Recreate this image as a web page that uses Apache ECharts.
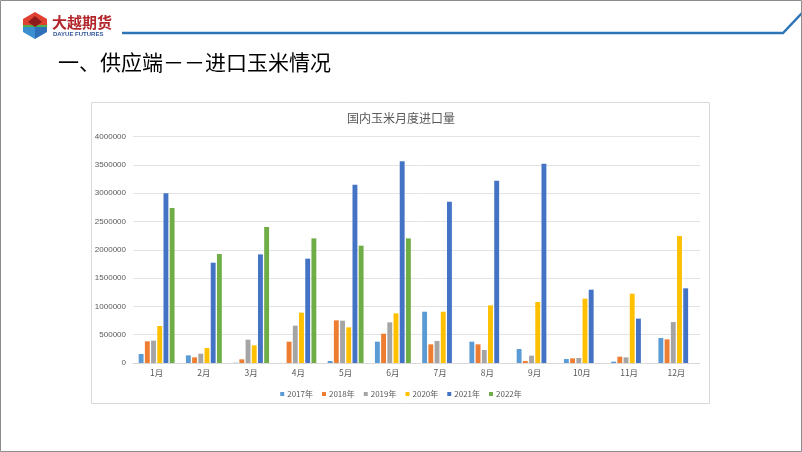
<!DOCTYPE html>
<html>
<head>
<meta charset="utf-8">
<script src="https://cdn.jsdelivr.net/npm/echarts@6/dist/echarts.min.js"></script>
<style>
html,body{margin:0;padding:0;background:#fff;}
#c{width:802px;height:452px;}
</style>
</head>
<body>
<div id="c"></div>
<script>
var months = ['1月','2月','3月','4月','5月','6月','7月','8月','9月','10月','11月','12月'];
var yearNames = ['2017年','2018年','2019年','2020年','2021年','2022年'];
var y2017 = [159000, 135000, 5000, 0, 35000, 377000, 907000, 377000, 247000, 70000, 24000, 442000];
var y2018 = [383000, 100000, 65000, 377000, 754000, 518000, 330000, 330000, 35000, 82000, 112000, 418000];
var y2019 = [395000, 165000, 412000, 660000, 748000, 719000, 389000, 230000, 130000, 88000, 100000, 725000];
var y2020 = [654000, 265000, 312000, 890000, 630000, 878000, 907000, 1019000, 1078000, 1137000, 1225000, 2244000];
var y2021 = [2999000, 1773000, 1920000, 1844000, 3152000, 3564000, 2851000, 3222000, 3523000, 1296000, 784000, 1320000];
var y2022 = [2739000, 1926000, 2403000, 2203000, 2074000, 2203000, null, null, null, null, null, null];
var yTicks = [0, 500000, 4000000];

var seriesData = [y2017, y2018, y2019, y2020, y2021, y2022];
var colors = ['#5b9bd5','#ed7d31','#a5a5a5','#ffc000','#4472c4','#70ad47'];

var chart = echarts.init(document.getElementById('c'), null, {renderer:'canvas'});
var series = seriesData.map(function(d, i){
  return {
    name: yearNames[i], type: 'bar', data: d,
    itemStyle: {color: colors[i]},
    barGap: '27%', barCategoryGap: '24%',
    emphasis: {disabled: true}
  };
});

var cjk = '"Noto Sans CJK SC", "Microsoft YaHei", sans-serif';
var option = {
  animation: false,
  backgroundColor: '#ffffff',
  color: colors,
  title: {
    text: '国内玉米月度进口量',
    left: 'center', top: 107,
    textStyle: {fontSize: 12, fontWeight: 'normal', color: '#595959', fontFamily: cjk}
  },
  legend: {
    data: yearNames,
    top: 385, left: 'center',
    itemWidth: 4, itemHeight: 4, itemGap: 9,
    icon: 'rect',
    textStyle: {fontSize: 8, color: '#595959', fontFamily: cjk, padding: [0,0,0,-2]}
  },
  grid: {left: 133, right: 102, top: 136.7, bottom: 89, containLabel: false},
  xAxis: {
    type: 'category', data: months,
    axisLine: {lineStyle: {color: '#d9d9d9'}},
    axisTick: {show: false},
    axisLabel: {fontSize: 8.5, color: '#595959', margin: 6, fontFamily: cjk}
  },
  yAxis: {
    type: 'value', min: yTicks[0], max: yTicks[2], interval: yTicks[1],
    axisLine: {show: false}, axisTick: {show: false},
    splitLine: {lineStyle: {color: '#e3e3e3'}},
    axisLabel: {fontSize: 8, color: '#595959', margin: 7, fontFamily: 'Liberation Sans, Arial, sans-serif',
      formatter: function(v){ return String(v); }}
  },
  series: series,
  graphic: [
    {type:'rect', shape:{x:0.5,y:0.5,width:801,height:451}, style:{fill:'none', stroke:'#8c8c8c', lineWidth:1}, z:100},
    {type:'rect', shape:{x:91.5,y:102.5,width:618,height:301}, style:{fill:'none', stroke:'#d9d9d9', lineWidth:1}, z:-1},
    {type:'polyline', shape:{points:[[122,33],[783,33],[802,13]]}, style:{stroke:'#2e75b6', lineWidth:2.5, fill:'none'}},
    {type:'polygon', shape:{points:[[35,12],[47,19],[47,25],[23,25],[23,19]]}, style:{fill:'#e0402f'}},
    {type:'polygon', shape:{points:[[23,25],[47,25],[47,27],[23,27]]}, style:{fill:'#4caf50'}},
    {type:'polygon', shape:{points:[[23,27],[35,27],[35,39],[23,32]]}, style:{fill:'#3b8fd0'}},
    {type:'polygon', shape:{points:[[35,27],[47,27],[47,32],[35,39]]}, style:{fill:'#2f6fb8'}},
    {type:'polygon', shape:{points:[[35,16],[42,22],[35,27],[28,22]]}, style:{fill:'#8e1b1b'}},
    {type:'text', left:52, top:15, style:{text:'大越期货', fontSize:15, fontWeight:'bold', fill:'#b3262b', fontFamily:cjk}},
    {type:'text', left:53, top:31, style:{text:'DAYUE FUTURES', fontSize:6, fill:'#2f5597', fontFamily:'Liberation Sans, Arial, sans-serif', fontWeight:'bold'}},
    {type:'text', left:58, top:52, style:{text:'一、供应端－－进口玉米情况', fontSize:21, fill:'#000000', fontFamily:cjk}}
  ]
};
chart.setOption(option);
</script>
</body>
</html>
